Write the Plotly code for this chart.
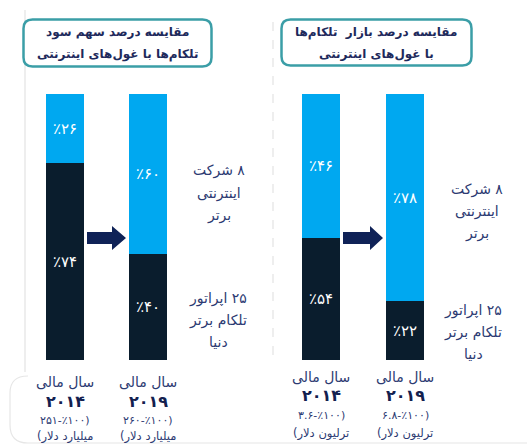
import plotly.graph_objects as go

W, H = 527, 445

# ---------------- data ----------------
years = ["۲۰۱۴", "۲۰۱۹"]
fiscal_label = "سال مالی"

# left panel: profit share
profit_internet = [26, 60]
profit_telecom = [74, 40]
profit_internet_labels = ["٪۲۶", "٪۶۰"]
profit_telecom_labels = ["٪۷۴", "٪۴۰"]
profit_totals = ["۲۵۱-٪۱۰۰)", "۲۶۰-٪۱۰۰)"]
profit_unit = "میلیارد دلار)"

# right panel: market share (bar heights as drawn)
market_internet = [54, 78]
market_telecom = [46, 22]
market_internet_labels = ["٪۴۶", "٪۷۸"]
market_telecom_labels = ["٪۵۴", "٪۲۲"]
market_totals = ["۳.۶-٪۱۰۰)", "۶.۸-٪۱۰۰)"]
market_unit = "ترلیون دلار)"

title_left = ["مقایسه درصد سهم سود", "تلکام‌ها با غول‌های اینترنتی"]
title_right = ["مقایسه درصد بازار  تلکام‌ها", "با غول‌های اینترنتی"]
internet_lines = ["۸ شرکت", "اینترنتی", "برتر"]
telecom_lines = ["۲۵ اپراتور", "تلکام برتر", "دنیا"]

# ---------------- style ----------------
LIGHT = "#00A8F0"
DARK = "#0A1D2D"
NAVY = "#0F2257"
TXT = "#2C3A72"
TITLE = "#1E2A5C"
TEAL = "#3B9EA7"
FONT = "DejaVu Sans"

RLM = "\u200f"


def rtl(s):
    return RLM + s + RLM


def px(x):
    return x / W


def py(y):
    return 1 - y / H


fig = go.Figure()

panels = [
    ("x", "y", profit_telecom, profit_internet, profit_telecom_labels, profit_internet_labels, 0.458),
    ("x2", "y2", market_telecom, market_internet, market_telecom_labels, market_internet_labels, 0.452),
]
for xa, ya, dark_v, light_v, dark_t, light_t, w in panels:
    fig.add_trace(go.Bar(x=years, y=dark_v, text=dark_t, xaxis=xa, yaxis=ya,
                         marker=dict(color=DARK, line=dict(width=0)), width=w,
                         textposition="inside", insidetextanchor="middle", textangle=0,
                         constraintext="none",
                         textfont=dict(color="white", size=15, family=FONT),
                         hoverinfo="skip", showlegend=False))
    fig.add_trace(go.Bar(x=years, y=light_v, text=light_t, xaxis=xa, yaxis=ya,
                         marker=dict(color=LIGHT, line=dict(width=0)), width=w,
                         textposition="inside", insidetextanchor="middle", textangle=0,
                         constraintext="none",
                         textfont=dict(color="white", size=15, family=FONT),
                         hoverinfo="skip", showlegend=False))

ydom = [py(360), py(94)]
ax_common = dict(showgrid=False, zeroline=False, showticklabels=False, showline=False, ticks="")
fig.update_layout(
    width=W, height=H, margin=dict(l=0, r=0, t=0, b=0),
    paper_bgcolor="white", plot_bgcolor="rgba(0,0,0,0)",
    barmode="stack",
    xaxis=dict(domain=[px(23.5), px(189.5)], range=[-0.5, 1.5], type="category", anchor="y", **ax_common),
    yaxis=dict(domain=ydom, range=[0, 100], anchor="x", **ax_common),
    xaxis2=dict(domain=[px(279), px(447)], range=[-0.5, 1.5], type="category", anchor="y2", **ax_common),
    yaxis2=dict(domain=ydom, range=[0, 100], anchor="x2", **ax_common),
    font=dict(family=FONT),
)


def rrect(x0, y0, x1, y1, r):
    pts = [
        f"M {px(x0 + r)},{py(y0)}",
        f"L {px(x1 - r)},{py(y0)}",
        f"Q {px(x1)},{py(y0)} {px(x1)},{py(y0 + r)}",
        f"L {px(x1)},{py(y1 - r)}",
        f"Q {px(x1)},{py(y1)} {px(x1 - r)},{py(y1)}",
        f"L {px(x0 + r)},{py(y1)}",
        f"Q {px(x0)},{py(y1)} {px(x0)},{py(y1 - r)}",
        f"L {px(x0)},{py(y0 + r)}",
        f"Q {px(x0)},{py(y0)} {px(x0 + r)},{py(y0)}",
        "Z",
    ]
    return " ".join(pts)


def arrow(x0, x_head, x_tip, yc, shaft_h, head_h):
    pts = [(x0, yc - shaft_h / 2), (x_head, yc - shaft_h / 2), (x_head, yc - head_h / 2),
           (x_tip, yc), (x_head, yc + head_h / 2), (x_head, yc + shaft_h / 2), (x0, yc + shaft_h / 2)]
    return "M " + " L ".join(f"{px(a)},{py(b)}" for a, b in pts) + " Z"


shapes = []
# faint panel decorations
shapes.append(dict(type="line", xref="paper", yref="paper", x0=px(25), x1=px(25), y0=py(10), y1=py(372),
                   line=dict(color="#E3E3E3", width=1.2)))
shapes.append(dict(type="path", xref="paper", yref="paper",
                   path=(f"M {px(527)},{py(443)} L {px(28)},{py(443)} "
                         f"Q {px(10)},{py(443)} {px(10)},{py(425)} L {px(10)},{py(393)} "
                         f"Q {px(10)},{py(376)} {px(28)},{py(376)}"),
                   line=dict(color="#E6E6E6", width=1.2)))
shapes.append(dict(type="line", xref="paper", yref="paper", x0=px(273), x1=px(273), y0=py(22), y1=py(363),
                   line=dict(color="#DDDDDD", width=1, dash="dash")))
# title boxes
shapes.append(dict(type="path", xref="paper", yref="paper", path=rrect(23.5, 19.5, 211.5, 66.5, 9),
                   line=dict(color=TEAL, width=2.5), fillcolor="white"))
shapes.append(dict(type="path", xref="paper", yref="paper", path=rrect(281.5, 19.5, 471.5, 65.5, 9),
                   line=dict(color=TEAL, width=2.5), fillcolor="white"))
# arrows
shapes.append(dict(type="path", xref="paper", yref="paper", path=arrow(87, 112, 126, 238, 12, 24),
                   line=dict(width=0), fillcolor=NAVY))
shapes.append(dict(type="path", xref="paper", yref="paper", path=arrow(343, 370, 383, 238, 12, 24),
                   line=dict(width=0), fillcolor=NAVY))
fig.update_layout(shapes=shapes)

ann = []


def add_text(text, x, y, size, color, bold=False, xref="paper"):
    t = f"<b>{text}</b>" if bold else text
    ann.append(dict(text=t, x=x, y=py(y), xref=xref, yref="paper", showarrow=False,
                    xanchor="center", yanchor="middle",
                    font=dict(family=FONT, size=size, color=color)))


# titles
add_text(rtl(title_left[0]), px(117), 32, 12, TITLE, bold=True)
add_text(rtl(title_left[1]), px(117), 55, 12, TITLE, bold=True)
add_text(rtl(title_right[0]), px(376), 32, 12, TITLE, bold=True)
add_text(rtl(title_right[1]), px(376), 55, 12, TITLE, bold=True)

# side category labels
for i, line in enumerate(internet_lines):
    add_text(rtl(line), px(219), 171 + 22 * i, 14, TXT)
    add_text(rtl(line), px(477), 189 + 22 * i, 14, TXT)
for i, line in enumerate(telecom_lines):
    add_text(rtl(line), px(218), 298 + 22 * i, 14, TXT)
    add_text(rtl(line), px(473), 310 + 22 * i, 14, TXT)

# bottom year labels
for xa, totals, unit, ys in [("x", profit_totals, profit_unit, (382, 401, 420, 436)),
                             ("x2", market_totals, market_unit, (377, 395, 415, 433))]:
    for j, yr in enumerate(years):
        add_text(rtl(fiscal_label), j, ys[0], 14, TXT, xref=xa)
        add_text(yr, j, ys[1], 16, "#13204F", bold=True, xref=xa)
        add_text(totals[j], j, ys[2], 11, TXT, xref=xa)
        add_text(rtl(unit), j, ys[3], 11.5, TXT, xref=xa)

fig.update_layout(annotations=ann)

fig.write_html("out.html")
